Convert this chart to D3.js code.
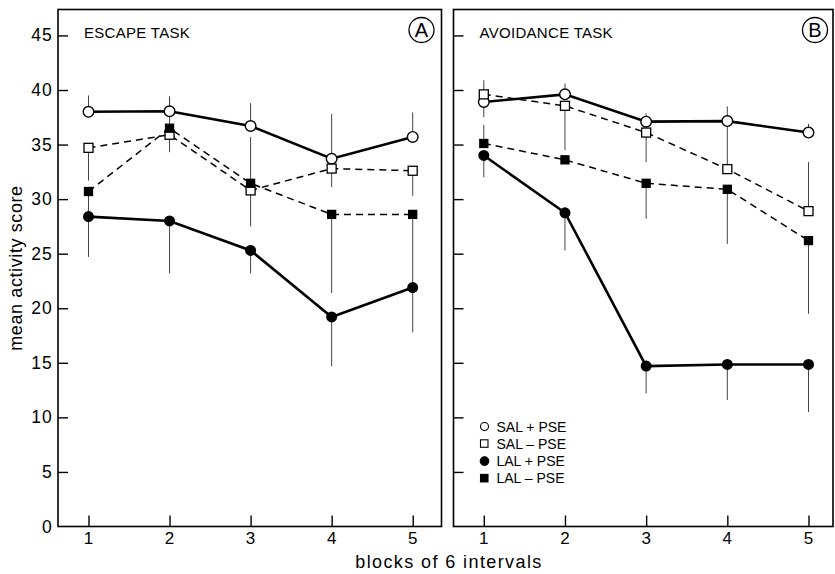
<!DOCTYPE html>
<html><head><meta charset="utf-8">
<script src="https://cdn.jsdelivr.net/npm/d3@7/dist/d3.min.js"></script>
<style>
body{margin:0;background:#fff;}
svg{display:block;font-family:"Liberation Sans",Arial,sans-serif;}
</style></head>
<body><svg id="chart" width="835" height="574"></svg>
<script>
// ---- data ----
const blocks = [1, 2, 3, 4, 5];
const yTicks = [0, 5, 10, 15, 20, 25, 30, 35, 40, 45];
const seriesNames = ["SAL + PSE", "SAL \u2013 PSE", "LAL + PSE", "LAL \u2013 PSE"];
const panelTitles = ["ESCAPE TASK", "AVOIDANCE TASK"];
const panelLetters = ["A", "B"];

// Escape task (panel A): means and error-bar end values
const escSalPlus   = [38.0, 38.05, 36.7, 33.7, 35.7];
const escSalPlusE  = [39.5, 39.4, 38.8, 37.8, 37.95];
const escSalMinus  = [34.7, 35.9, 30.8, 32.8, 32.6];
const escSalMinusE = [31.7, 34.3, 27.5, 31.1, 30.3];
const escLalPlus   = [28.4, 28.0, 25.3, 19.2, 21.9];
const escLalPlusE  = [26.1, 23.2, 23.2, 14.7, 17.8];
const escLalMinus  = [30.7, 36.5, 31.45, 28.6, 28.6];
const escLalMinusE = [24.7, 39.4, 35.7, 21.4, 21.4];

// Avoidance task (panel B)
const avdSalPlus   = [38.9, 39.6, 37.1, 37.15, 36.1];
const avdSalPlusE  = [37.5, 40.6, 37.85, 38.5, 36.9];
const avdSalMinus  = [39.6, 38.55, 36.1, 32.75, 28.9];
const avdSalMinusE = [40.9, 34.5, 33.4, 37.0, 33.4];
const avdLalPlus   = [34.0, 28.75, 14.7, 14.85, 14.85];
const avdLalPlusE  = [32.0, 25.3, 12.2, 11.6, 10.5];
const avdLalMinus  = [35.1, 33.6, 31.45, 30.9, 26.2];
const avdLalMinusE = [36.8, 33.6, 28.2, 25.9, 19.5];

// ---- styles ----
const styles = [
  {line: "solid", marker: "circle", fill: "#fff"},
  {line: "dash",  marker: "square", fill: "#fff"},
  {line: "solid", marker: "circle", fill: "#000"},
  {line: "dash",  marker: "square", fill: "#000"}
];

const panels = [
  {x0: 58, x1: 441.5, xa: 88.5, xb: 412.7, labels: true,
   series: [[escSalPlus, escSalPlusE], [escSalMinus, escSalMinusE], [escLalPlus, escLalPlusE], [escLalMinus, escLalMinusE]],
   letterX: 421.5},
  {x0: 453.5, x1: 833, xa: 483.8, xb: 808.5, labels: false,
   series: [[avdSalPlus, avdSalPlusE], [avdSalMinus, avdSalMinusE], [avdLalPlus, avdLalPlusE], [avdLalMinus, avdLalMinusE]],
   letterX: 815}
];

const svg = d3.select("#chart");
const yTop = 9.5, yBot = 526.5;
const y = d3.scaleLinear().domain([0, 40]).range([yBot, 90]);

panels.forEach((p, pi) => {
  const g = svg.append("g");
  const x = d3.scaleLinear().domain([1, 5]).range([p.xa, p.xb]);

  // frame
  g.append("rect").attr("x", p.x0).attr("y", yTop)
    .attr("width", p.x1 - p.x0).attr("height", yBot - yTop)
    .attr("fill", "none").attr("stroke", "#000").attr("stroke-width", 1.6);

  // y axis (ticks inward)
  const ya = d3.axisRight(y).tickValues(yTicks.filter(t => t > 0)).tickSize(10).tickFormat("");
  const yg = g.append("g").attr("transform", `translate(${p.x0},0)`).call(ya);
  yg.select(".domain").remove();
  yg.selectAll("line").attr("stroke", "#000").attr("stroke-width", 1.4);
  if (p.labels) {
    g.selectAll(".ylab").data(yTicks).enter().append("text")
      .attr("x", 53).attr("y", d => y(d) + 6).attr("text-anchor", "end")
      .attr("font-size", 17.5).attr("letter-spacing", 1.2).text(d => d);
  }

  // x axis (ticks upward)
  const xa = d3.axisTop(x).tickValues(blocks).tickSize(11).tickFormat("");
  const xg = g.append("g").attr("transform", `translate(0,${yBot})`).call(xa);
  xg.select(".domain").remove();
  xg.selectAll("line").attr("stroke", "#000").attr("stroke-width", 1.4);
  g.selectAll(".xlab").data(blocks).enter().append("text")
    .attr("x", d => x(d)).attr("y", 544).attr("text-anchor", "middle")
    .attr("font-size", 17).text(d => d);

  // title & letter
  g.append("text").attr("x", p.x0 + 26).attr("y", 38).attr("font-size", 15)
    .attr("letter-spacing", 0.3).text(panelTitles[pi]);
  g.append("circle").attr("cx", p.letterX).attr("cy", 30).attr("r", 12.5)
    .attr("fill", "none").attr("stroke", "#000").attr("stroke-width", 1.3);
  g.append("text").attr("x", p.letterX).attr("y", 37).attr("text-anchor", "middle")
    .attr("font-size", 20).text(panelLetters[pi]);

  // error bars
  p.series.forEach(([vals, ends]) => {
    g.selectAll(null).data(blocks).enter().append("line")
      .attr("x1", d => x(d)).attr("x2", d => x(d))
      .attr("y1", (d, i) => y(vals[i])).attr("y2", (d, i) => y(ends[i]))
      .attr("stroke", "#444").attr("stroke-width", 1);
  });

  // lines
  const line = d3.line().x((d, i) => x(blocks[i])).y(d => y(d));
  p.series.forEach(([vals], si) => {
    const st = styles[si];
    g.append("path").datum(vals).attr("d", line).attr("fill", "none")
      .attr("stroke", "#000")
      .attr("stroke-width", st.line === "solid" ? 2.6 : 1.5)
      .attr("stroke-dasharray", st.line === "solid" ? null : "7,5");
  });

  // markers
  p.series.forEach(([vals], si) => {
    const st = styles[si];
    if (st.marker === "circle") {
      g.selectAll(null).data(vals).enter().append("circle")
        .attr("cx", (d, i) => x(blocks[i])).attr("cy", d => y(d))
        .attr("r", st.fill === "#fff" ? 5.3 : 4.8)
        .attr("fill", st.fill).attr("stroke", "#000").attr("stroke-width", 1.4);
    } else {
      const s = st.fill === "#fff" ? 9 : 8;
      g.selectAll(null).data(vals).enter().append("rect")
        .attr("x", (d, i) => x(blocks[i]) - s / 2).attr("y", d => y(d) - s / 2)
        .attr("width", s).attr("height", s)
        .attr("fill", st.fill).attr("stroke", "#000").attr("stroke-width", 1.3);
    }
  });
});

// legend in panel B
const lg = svg.append("g");
seriesNames.forEach((name, i) => {
  const cy = 431.5 + i * 17.3;
  const st = styles[i];
  if (st.marker === "circle") {
    lg.append("circle").attr("cx", 484.5).attr("cy", cy - 5).attr("r", st.fill === "#fff" ? 4 : 4.3)
      .attr("fill", st.fill).attr("stroke", "#000").attr("stroke-width", 1.1);
  } else {
    lg.append("rect").attr("x", 480.5).attr("y", cy - 9).attr("width", 7.5).attr("height", 7.5)
      .attr("fill", st.fill).attr("stroke", "#000").attr("stroke-width", 1.1);
  }
  lg.append("text").attr("x", 496.5).attr("y", cy).attr("font-size", 14).text(name);
});

// axis titles
svg.append("text").attr("x", 449).attr("y", 568).attr("text-anchor", "middle")
  .attr("font-size", 18).attr("letter-spacing", 1.4).text("blocks of 6 intervals");
svg.append("text").attr("transform", "translate(22,268) rotate(-90)")
  .attr("text-anchor", "middle").attr("font-size", 18).attr("letter-spacing", 0.6)
  .text("mean activity score");
</script>
</body></html>
